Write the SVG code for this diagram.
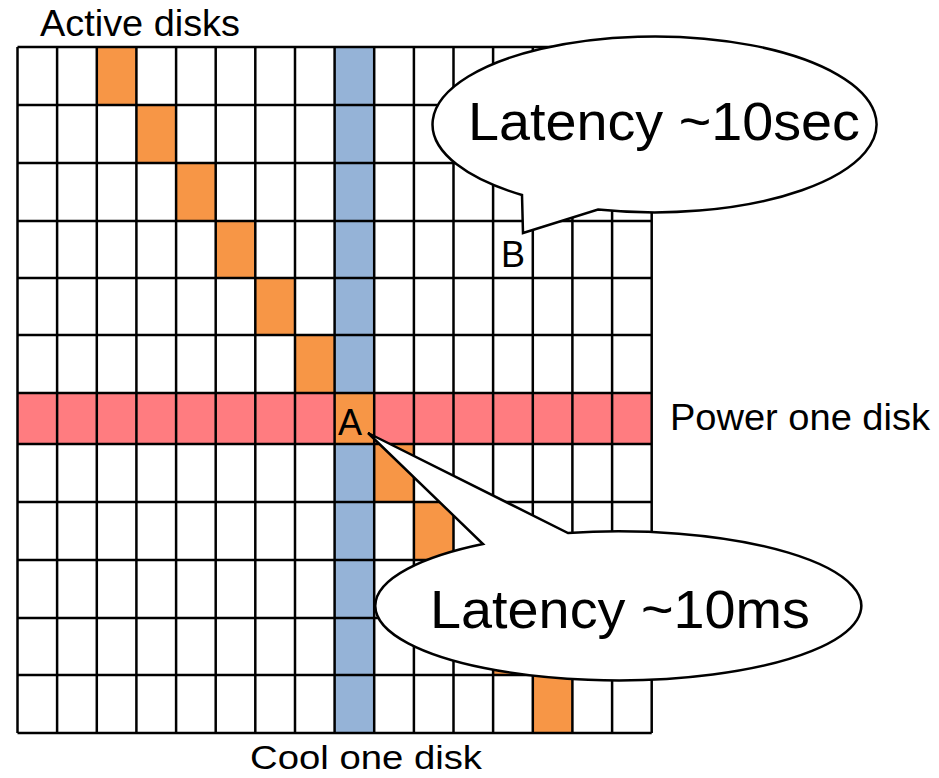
<svg xmlns="http://www.w3.org/2000/svg" width="939" height="778" viewBox="0 0 939 778">
<style>
text{font-family:"Liberation Sans",Arial,sans-serif;fill:#000}
.o{fill:#F79646}.b{fill:#95B3D7}.r{fill:#FF7C80}
.gl{stroke:#000;stroke-width:2.5;fill:none}
.bub{fill:#fff;stroke:#000;stroke-width:2.5;stroke-linejoin:miter}
</style>
<rect width="939" height="778" fill="#fff"/>
<g id="grid">
<rect class="r" x="17.5" y="393" width="634.2" height="51"/>
<rect class="b" x="334.6" y="47" width="39.6" height="686"/>
<rect class="o" x="96.8" y="47" width="39.6" height="58"/>
<rect class="o" x="136.4" y="105" width="39.6" height="58"/>
<rect class="o" x="176.1" y="163" width="39.6" height="58"/>
<rect class="o" x="215.7" y="221" width="39.6" height="57"/>
<rect class="o" x="255.3" y="278" width="39.6" height="57"/>
<rect class="o" x="295" y="335" width="39.6" height="58"/>
<rect class="o" x="334.6" y="393" width="39.6" height="51"/>
<rect class="o" x="374.2" y="444" width="39.6" height="58"/>
<rect class="o" x="413.9" y="502" width="39.6" height="58"/>
<rect class="o" x="453.5" y="560" width="39.6" height="58"/>
<rect class="o" x="493.1" y="618" width="39.6" height="57"/>
<rect class="o" x="532.8" y="675" width="39.6" height="58"/>
<path class="gl" d="M17.5 47V733M57.1 47V733M96.8 47V733M136.4 47V733M176.1 47V733M215.7 47V733M255.3 47V733M295 47V733M334.6 47V733M374.2 47V733M413.9 47V733M453.5 47V733M493.1 47V733M532.8 47V733M572.4 47V733M612.1 47V733M651.7 47V733"/>
<path class="gl" d="M17.5 47H651.7M17.5 105H651.7M17.5 163H651.7M17.5 221H651.7M17.5 278H651.7M17.5 335H651.7M17.5 393H651.7M17.5 444H651.7M17.5 502H651.7M17.5 560H651.7M17.5 618H651.7M17.5 675H651.7M17.5 733H651.7"/>
</g>
<g id="cellA"><text x="338" y="435" font-size="36">A</text></g>
<g id="cellB"><text x="501" y="267" font-size="36">B</text></g>
<g id="callout-sec">
<path class="bub" d="M598 209.5A222 88 0 1 0 522 195L523 233Z"/>
<text x="468" y="140" font-size="54" textLength="392" lengthAdjust="spacingAndGlyphs">Latency ~10sec</text>
</g>
<g id="callout-ms">
<path class="bub" d="M568 533A243 74.5 0 1 1 483 544L368 433Z"/>
<text x="430" y="628" font-size="54" textLength="380" lengthAdjust="spacingAndGlyphs">Latency ~10ms</text>
</g>
<g id="label-active"><text x="40" y="36" font-size="36" textLength="200" lengthAdjust="spacingAndGlyphs">Active disks</text></g>
<g id="label-power"><text x="670" y="430" font-size="36" textLength="260" lengthAdjust="spacingAndGlyphs">Power one disk</text></g>
<g id="label-cool"><text x="250" y="769" font-size="34" textLength="232" lengthAdjust="spacingAndGlyphs">Cool one disk</text></g>
</svg>
